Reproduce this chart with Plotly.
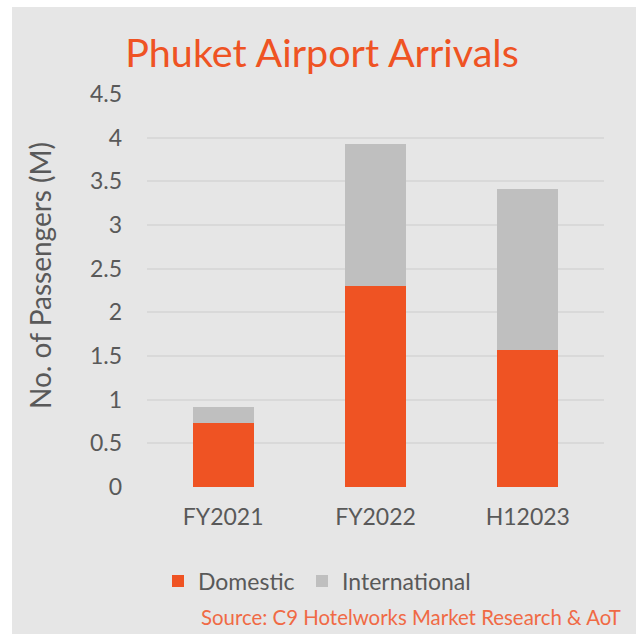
import plotly.graph_objects as go

categories = ["FY2021", "FY2022", "H12023"]
domestic = [0.73, 2.30, 1.57]
international = [0.19, 1.63, 1.84]
y_ticks = [0, 0.5, 1, 1.5, 2, 2.5, 3, 3.5, 4, 4.5]
y_tick_labels = ["0", "0.5", "1", "1.5", "2", "2.5", "3", "3.5", "4", "4.5"]

ORANGE = "#EF5323"
GREY_BAR = "#BFBFBF"
BG = "#E6E6E6"
GRID = "#D9D9D9"
TEXT = "#595959"
FONT = "Lato"

W, H = 636, 634
L, R, T, B = 147, 32, 94, 147
pw, ph = W - L - R, H - T - B

def px_x(x):
    return (x - L) / pw

def px_y(y):
    return (H - B - y) / ph

fig = go.Figure()
fig.add_trace(go.Bar(x=categories, y=domestic, name="Domestic", legend="legend",
                     marker=dict(color=ORANGE, line=dict(width=0))))
fig.add_trace(go.Bar(x=categories, y=international, name="International", legend="legend2",
                     marker=dict(color=GREY_BAR, line=dict(width=0))))

leg_common = dict(orientation="h", xanchor="left", yanchor="middle",
                  font=dict(family=FONT, size=23, color=TEXT), bgcolor="rgba(0,0,0,0)")

fig.update_layout(
    width=W, height=H,
    barmode="stack", bargap=0.6,
    margin=dict(l=L, r=R, t=T, b=B),
    paper_bgcolor="white", plot_bgcolor=BG,
    font=dict(family=FONT, color=TEXT, size=23),
    title=dict(text="Phuket Airport Arrivals", x=322 / W, xanchor="center",
               xref="container", yref="container", y=1 - 53 / H, yanchor="middle",
               font=dict(family=FONT, size=39.5, color=ORANGE)),
    showlegend=True,
    legend=dict(x=px_x(158), y=px_y(581), **leg_common),
    legend2=dict(x=px_x(302), y=px_y(581), **leg_common),
    shapes=[dict(type="rect", xref="paper", yref="paper", layer="below",
                 x0=px_x(12), x1=px_x(W + 5), y0=px_y(7), y1=px_y(H + 5),
                 fillcolor=BG, line=dict(width=0))],
    annotations=[
        dict(text="No. of Passengers (M)", textangle=-90, xref="paper", yref="paper",
             x=px_x(40), y=px_y(276), xanchor="center", yanchor="middle", showarrow=False,
             font=dict(family=FONT, size=28, color=TEXT)),
        dict(text="Source: C9 Hotelworks Market Research & AoT", xref="paper", yref="paper",
             x=px_x(623), y=px_y(617), xanchor="right", yanchor="middle", showarrow=False,
             font=dict(family=FONT, size=20.4, color="#F06A45")),
    ],
)
fig.update_yaxes(range=[0, 4.5], tickvals=y_ticks, ticktext=y_tick_labels,
                 showgrid=True, gridcolor=GRID, gridwidth=2, zeroline=False,
                 showline=False, ticklabelstandoff=24, tickfont=dict(size=23, color=TEXT))
fig.update_xaxes(showgrid=False, showline=False, ticklabelstandoff=14,
                 tickfont=dict(size=23, color=TEXT))

fig.write_html("out.html", config={"displayModeBar": False},
               post_script="document.body.style.margin='0';document.body.style.overflow='hidden';")
